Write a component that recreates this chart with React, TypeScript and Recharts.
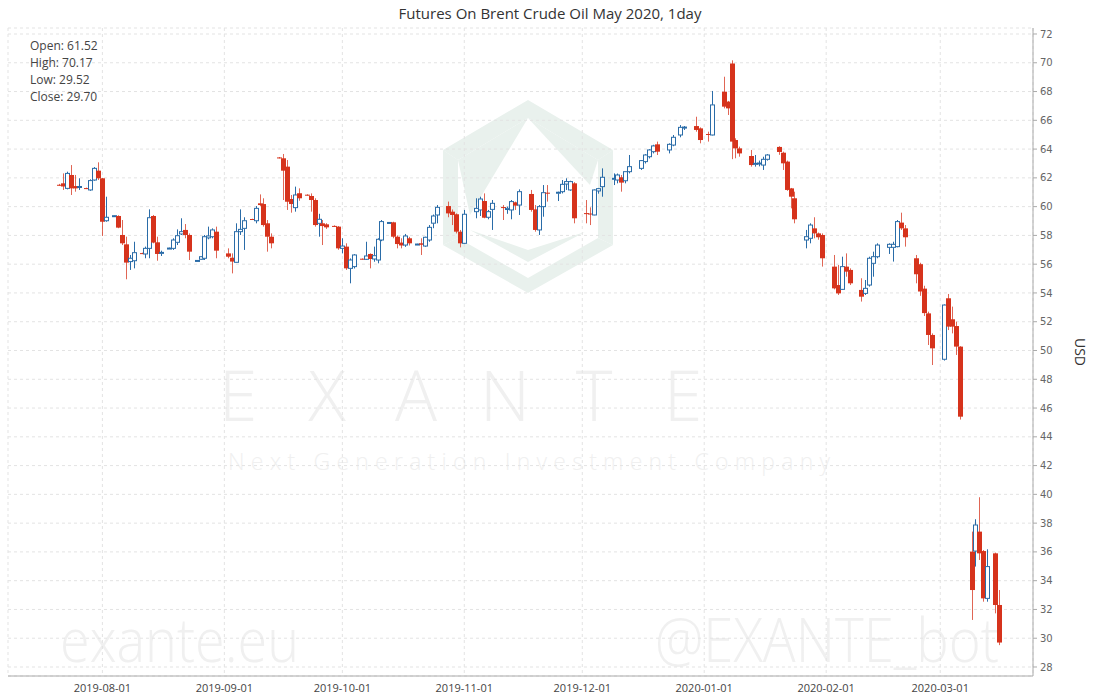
import { Bar, CartesianGrid, ComposedChart, Label, XAxis, YAxis } from "recharts";

// daily candles, Brent May 2020 futures
const dates = [
  "2019-07-21", "2019-07-22", "2019-07-23", "2019-07-24", "2019-07-25", "2019-07-26",
  "2019-07-28", "2019-07-29", "2019-07-30", "2019-07-31", "2019-08-01", "2019-08-02",
  "2019-08-04", "2019-08-05", "2019-08-06", "2019-08-07", "2019-08-08", "2019-08-09",
  "2019-08-11", "2019-08-12", "2019-08-13", "2019-08-14", "2019-08-15", "2019-08-16",
  "2019-08-18", "2019-08-19", "2019-08-20", "2019-08-21", "2019-08-22", "2019-08-23",
  "2019-08-25", "2019-08-26", "2019-08-27", "2019-08-28", "2019-08-29", "2019-08-30",
  "2019-09-02", "2019-09-03", "2019-09-04", "2019-09-05", "2019-09-06",
  "2019-09-08", "2019-09-09", "2019-09-10", "2019-09-11", "2019-09-12", "2019-09-13",
  "2019-09-15", "2019-09-16", "2019-09-17", "2019-09-18", "2019-09-19", "2019-09-20",
  "2019-09-22", "2019-09-23", "2019-09-24", "2019-09-25", "2019-09-26", "2019-09-27",
  "2019-09-29", "2019-09-30", "2019-10-01", "2019-10-02", "2019-10-03", "2019-10-04",
  "2019-10-06", "2019-10-07", "2019-10-08", "2019-10-09", "2019-10-10", "2019-10-11",
  "2019-10-13", "2019-10-14", "2019-10-15", "2019-10-16", "2019-10-17", "2019-10-18",
  "2019-10-20", "2019-10-21", "2019-10-22", "2019-10-23", "2019-10-24", "2019-10-25",
  "2019-10-28", "2019-10-29", "2019-10-30", "2019-10-31", "2019-11-01",
  "2019-11-04", "2019-11-05", "2019-11-06", "2019-11-07", "2019-11-08",
  "2019-11-11", "2019-11-12", "2019-11-13", "2019-11-14", "2019-11-15",
  "2019-11-18", "2019-11-19", "2019-11-20", "2019-11-21", "2019-11-22",
  "2019-11-25", "2019-11-26", "2019-11-27", "2019-11-28", "2019-11-29",
  "2019-12-02", "2019-12-03", "2019-12-04", "2019-12-05", "2019-12-06",
  "2019-12-09", "2019-12-10", "2019-12-11", "2019-12-12", "2019-12-13",
  "2019-12-16", "2019-12-17", "2019-12-18", "2019-12-19", "2019-12-20",
  "2019-12-23", "2019-12-24", "2019-12-26", "2019-12-27",
  "2019-12-30", "2019-12-31", "2020-01-02", "2020-01-03",
  "2020-01-06", "2020-01-07", "2020-01-08", "2020-01-09", "2020-01-10",
  "2020-01-13", "2020-01-14", "2020-01-15", "2020-01-16", "2020-01-17",
  "2020-01-20", "2020-01-21", "2020-01-22", "2020-01-23", "2020-01-24",
  "2020-01-27", "2020-01-28", "2020-01-29", "2020-01-30", "2020-01-31",
  "2020-02-03", "2020-02-04", "2020-02-05", "2020-02-06", "2020-02-07",
  "2020-02-10", "2020-02-11", "2020-02-12", "2020-02-13", "2020-02-14",
  "2020-02-17", "2020-02-18", "2020-02-19", "2020-02-20", "2020-02-21",
  "2020-02-24", "2020-02-25", "2020-02-26", "2020-02-27", "2020-02-28",
  "2020-03-02", "2020-03-03", "2020-03-04", "2020-03-05", "2020-03-06",
  "2020-03-09", "2020-03-10", "2020-03-11", "2020-03-12", "2020-03-13",
  "2020-03-15", "2020-03-16",
];

const opens = [
  61.52, 61.62, 61.27, 62.2, 61.43, 61.34,
  61.29, 61.16, 61.85, 62.5, 61.97, 59.02,
  59.33, 59.35, 58.03, 57.38, 56.18, 56.24,
  56.77, 56.71, 57.1, 59.35, 57.52, 56.78,
  57.08, 57.1, 57.52, 58.1, 58.38, 58.03,
  56.22, 56.34, 56.41, 57.83, 57.91, 58.26,
  56.75, 56.45, 56.13, 58.26, 58.49,
  59.14, 59.02, 60.23, 60.18, 58.84, 57.91,
  63.42, 63.36, 62.78, 60.53, 59.93, 60.93,
  60.83, 60.74, 60.46, 58.84, 58.84, 58.77,
  58.66, 58.61, 57.1, 57.22, 55.71, 55.83,
  56.38, 56.34, 56.71, 56.36, 56.29, 57.68,
  58.88, 58.91, 57.91, 57.5, 57.33, 57.8,
  57.38, 57.45, 57.26, 57.68, 58.85, 59.42,
  60.04, 59.65, 59.47, 58.26, 57.45,
  59.65, 59.77, 60.39, 59.26, 59.81,
  59.97, 59.8, 59.77, 60.3, 60.11,
  60.88, 59.81, 58.38, 60.0, 60.97,
  60.97, 61.04, 61.57, 61.16, 61.62,
  59.55, 59.52, 59.42, 61.09, 61.39,
  61.9, 61.85, 62.04, 61.8, 62.43,
  62.66, 63.13, 63.47, 63.82, 64.33,
  63.94, 64.28, 64.98, 65.5,
  65.6, 65.44, 65.05, 64.98,
  67.99, 67.3, 69.95, 64.63, 64.05,
  63.52, 62.95, 62.98, 62.89, 63.29,
  64.15, 63.75, 63.13, 61.27, 60.58,
  57.68, 57.8, 58.49, 58.14, 58.03,
  55.83, 54.55, 54.25, 55.83, 55.6,
  54.21, 53.97, 54.55, 56.06, 56.52,
  57.17, 57.17, 57.22, 58.89, 58.49,
  56.41, 56.0, 54.3, 52.58, 51.08,
  49.39, 53.63, 52.17, 51.7, 50.27,
  36.02, 36.06, 37.41, 36.06, 32.77,
  35.9, 32.31,
];

const highs = [
  61.58, 62.31, 62.43, 62.89, 62.2, 61.97,
  61.32, 61.9, 62.75, 63.08, 62.0, 60.69,
  59.4, 59.4, 59.07, 57.91, 56.64, 57.56,
  56.8, 57.22, 59.81, 59.42, 57.91, 56.94,
  57.15, 57.8, 58.42, 59.19, 58.79, 58.14,
  56.28, 56.55, 58.03, 58.61, 58.49, 58.61,
  57.1, 56.75, 58.84, 59.81, 59.26,
  59.16, 60.04, 60.85, 60.58, 59.07, 58.14,
  63.45, 63.66, 63.24, 60.81, 61.39, 61.27,
  60.86, 60.92, 60.58, 59.5, 59.07, 58.85,
  58.7, 58.65, 57.8, 57.45, 56.4, 56.7,
  56.4, 57.56, 56.75, 57.22, 57.8, 59.07,
  58.92, 58.95, 58.0, 57.8, 58.1, 57.9,
  57.42, 57.8, 57.91, 58.72, 59.45, 60.11,
  60.35, 59.8, 59.53, 58.38, 59.77,
  60.58, 60.69, 60.92, 59.77, 60.46,
  60.11, 60.0, 60.46, 60.35, 61.2,
  61.16, 60.11, 60.11, 61.5, 61.5,
  61.04, 61.85, 61.97, 61.8, 61.7,
  60.46, 59.95, 61.2, 61.3, 62.66,
  62.31, 62.3, 62.2, 62.43, 63.59,
  63.24, 63.65, 64.0, 64.3, 64.52,
  64.4, 64.98, 65.67, 65.6,
  66.25, 65.51, 65.21, 68.04,
  69.03, 67.35, 70.17, 64.75, 64.17,
  63.94, 63.59, 63.2, 63.47, 63.65,
  64.2, 63.82, 63.2, 61.3, 61.04,
  58.38, 58.84, 59.26, 58.2, 58.14,
  56.64, 55.94, 56.52, 56.75, 55.71,
  55.02, 54.9, 56.52, 56.87, 57.45,
  57.45, 57.56, 59.07, 59.58, 58.72,
  56.64, 56.1, 54.5, 52.7, 51.19,
  53.2, 53.93, 53.05, 52.0, 50.3,
  37.41, 38.27, 39.8, 36.13, 36.18,
  35.95, 33.35,
];

const lows = [
  61.45, 61.16, 61.2, 60.81, 61.04, 61.16,
  61.22, 61.1, 61.8, 61.85, 57.96, 58.95,
  59.3, 58.5, 57.33, 54.95, 55.6, 55.71,
  56.7, 56.41, 56.41, 57.45, 56.24, 56.57,
  57.05, 56.99, 57.33, 58.03, 57.8, 56.29,
  56.2, 56.3, 56.29, 57.73, 57.8, 56.41,
  56.41, 55.36, 56.11, 58.03, 56.99,
  59.08, 58.84, 60.04, 58.61, 56.87, 57.1,
  63.35, 60.46, 59.77, 59.58, 59.65, 60.41,
  60.76, 59.65, 58.61, 57.91, 57.33, 58.45,
  58.6, 57.0, 56.75, 55.6, 54.67, 55.7,
  56.32, 56.29, 55.71, 56.17, 56.06, 57.6,
  58.85, 57.8, 57.1, 57.1, 57.2, 57.3,
  57.35, 56.64, 57.2, 57.56, 58.5, 58.84,
  59.26, 58.72, 58.14, 57.17, 57.4,
  59.19, 59.35, 59.19, 59.12, 58.38,
  59.07, 59.5, 59.12, 59.77, 59.42,
  59.65, 58.26, 58.03, 59.3, 60.35,
  60.39, 60.92, 61.16, 61.1, 58.84,
  58.84, 58.72, 59.4, 60.9, 60.69,
  61.5, 61.62, 61.04, 61.62, 62.31,
  62.55, 63.0, 63.35, 63.7, 63.59,
  63.7, 64.2, 64.82, 65.33,
  65.21, 64.4, 64.52, 64.95,
  66.83, 66.37, 63.3, 63.36, 63.47,
  62.78, 62.78, 62.8, 62.55, 63.2,
  63.6, 62.55, 61.1, 59.88, 58.84,
  57.1, 57.45, 57.8, 57.7, 55.83,
  54.25, 53.86, 54.21, 55.13, 54.55,
  53.4, 53.86, 54.44, 55.13, 56.41,
  56.71, 56.18, 57.17, 58.38, 57.22,
  54.67, 53.8, 52.4, 50.38, 48.99,
  49.3, 51.42, 51.19, 49.69, 45.2,
  31.27, 34.98, 35.44, 32.54, 32.54,
  31.73, 29.52,
];

const closes = [
  61.5, 61.4, 62.31, 61.27, 61.27, 61.4,
  61.25, 61.81, 62.66, 61.97, 58.95, 59.26,
  59.37, 58.54, 57.45, 56.11, 56.41, 56.8,
  56.73, 57.1, 59.23, 57.5, 56.71, 56.82,
  57.12, 57.68, 57.98, 58.26, 58.03, 56.87,
  56.26, 56.52, 57.91, 57.96, 58.38, 56.94,
  56.52, 56.18, 58.26, 58.42, 59.02,
  59.1, 59.88, 60.11, 58.72, 57.91, 57.45,
  63.38, 62.5, 60.34, 60.18, 60.81, 60.58,
  60.79, 60.46, 58.72, 59.12, 58.65, 58.56,
  58.62, 57.1, 57.26, 55.71, 56.29, 56.64,
  56.34, 56.57, 56.36, 56.59, 57.73, 58.96,
  58.9, 57.91, 57.4, 57.3, 57.96, 57.45,
  57.4, 57.35, 57.87, 58.56, 59.35, 59.95,
  59.53, 59.42, 58.26, 57.45, 59.47,
  59.88, 60.53, 59.23, 59.65, 60.23,
  59.93, 59.88, 60.35, 60.07, 61.04,
  59.77, 58.38, 60.0, 60.97, 60.9,
  61.0, 61.55, 61.74, 61.74, 59.19,
  59.5, 59.47, 61.16, 61.25, 62.04,
  61.97, 62.2, 61.67, 62.43, 62.78,
  63.2, 63.59, 63.94, 64.22, 63.82,
  64.33, 64.82, 65.51, 65.53,
  65.33, 64.63, 64.98, 67.07,
  66.95, 66.83, 64.52, 64.05, 63.7,
  62.89, 63.01, 63.03, 63.29, 63.59,
  63.8, 63.01, 61.16, 60.69, 59.12,
  57.91, 58.72, 58.14, 57.87, 56.41,
  54.32, 53.97, 55.83, 55.48, 54.67,
  53.74, 54.32, 56.41, 56.52, 57.33,
  57.38, 57.38, 58.96, 58.49, 57.87,
  55.3, 54.1, 52.6, 51.08, 50.15,
  53.16, 51.66, 51.66, 50.27, 45.4,
  33.35, 37.87, 35.9, 32.77, 34.98,
  32.31, 29.7,
];

const monthTicks = [
  "2019-08-01", "2019-09-01", "2019-10-01", "2019-11-01",
  "2019-12-01", "2020-01-01", "2020-02-01", "2020-03-01",
];
const priceTicks = [28, 30, 32, 34, 36, 38, 40, 42, 44, 46, 48, 50, 52, 54, 56, 58, 60, 62, 64, 66, 68, 70, 72];

const summary = [
  ["Open", "61.52"],
  ["High", "70.17"],
  ["Low", "29.52"],
  ["Close", "29.70"],
];

const UP = "#2a6ca8";
const DOWN = "#d6331c";
const X_MIN = Date.UTC(2019, 6, 8);
const X_MAX = Date.UTC(2020, 2, 24, 14);

const data = dates.map((d, i) => ({
  t: Date.parse(d),
  open: opens[i],
  high: highs[i],
  low: lows[i],
  close: closes[i],
  range: [lows[i], highs[i]],
}));

const fmtDate = (v: number) => new Date(v).toISOString().slice(0, 10);

function Candle(props: any) {
  const { x, y, width, height, payload } = props;
  if (x == null || payload == null) return null;
  const { open, close, high, low } = payload;
  const cx = Math.round(x + width / 2) + 0.5;
  const k = high > low ? height / (high - low) : 0;
  const py = (v: number) => y + (high - v) * k;
  const top = py(Math.max(open, close));
  const bot = py(Math.min(open, close));
  const h = Math.max(bot - top, 1);
  if (close >= open) {
    return (
      <g>
        <line x1={cx} x2={cx} y1={py(high)} y2={top} stroke={UP} />
        <line x1={cx} x2={cx} y1={top + h} y2={py(low)} stroke={UP} />
        <rect x={cx - 2} y={top} width={4} height={h} fill="#fff" stroke={UP} />
      </g>
    );
  }
  return (
    <g>
      <line x1={cx} x2={cx} y1={py(high)} y2={py(low)} stroke={DOWN} strokeOpacity={0.75} />
      <rect x={cx - 2.5} y={top} width={5} height={h} fill={DOWN} />
    </g>
  );
}

// faint EXANTE watermark behind the plot
function Watermark() {
  const wm = "#f0f0f0";
  return (
    <svg width={1100} height={700} style={{ position: "absolute", left: 0, top: 0 }}>
      <g fill="#e9f1ed">
        <polygon points="528,100 613,150 598,160 528,118 458,160 443,150" />
        <polygon points="443,150 458,160 458,238 443,245" />
        <polygon points="613,150 598,160 598,238 613,245" />
        <polygon points="443,245 458,238 528,278 598,238 613,245 528,293" />
        <polygon points="528,118 458,160 470,215" />
        <polygon points="528,118 598,160 590,185" />
        <polygon points="470,230 528,262 585,232 528,250" />
      </g>
      <g fill={wm} fontFamily="'Open Sans', sans-serif" fontWeight={300}>
        {["E", "X", "A", "N", "T", "E"].map((c, i) => (
          <text key={i} x={238 + i * 89} y={421} fontSize={70} textAnchor="middle">
            {c}
          </text>
        ))}
        <text x={228} y={470} fontSize={23} textLength={602} lengthAdjust="spacing">
          Next Generation Investment Company
        </text>
        <text transform="translate(60 662) scale(0.9 1)" fontSize={60}>
          exante.eu
        </text>
        <text transform="translate(655 662) scale(0.91 1)" fontSize={60}>
          @EXANTE_bot
        </text>
      </g>
    </svg>
  );
}

export default function App() {
  return (
    <div
      style={{
        position: "absolute",
        left: 0,
        top: 0,
        width: 1100,
        height: 700,
        background: "#fff",
        fontFamily: "'Open Sans', sans-serif",
      }}
    >
      <Watermark />
      <div style={{ position: "absolute", left: 0, top: 0 }}>
        <ComposedChart
          width={1100}
          height={700}
          data={data}
          margin={{ top: 28, right: 0, bottom: 0, left: 8 }}
        >
          <CartesianGrid strokeDasharray="3 3" stroke="#e3e3e3" />
          <XAxis
            dataKey="t"
            type="number"
            scale="linear"
            domain={[X_MIN, X_MAX]}
            allowDataOverflow
            ticks={monthTicks.map((d) => Date.parse(d))}
            interval={0}
            tickFormatter={fmtDate}
            tickLine={false}
            axisLine={{ stroke: "#aaa" }}
            height={24}
            tick={{ fontSize: 11, fill: "#444", fontFamily: "'Open Sans', sans-serif" }}
          />
          <YAxis
            orientation="right"
            type="number"
            domain={[27.374, 72.417]}
            allowDataOverflow
            ticks={priceTicks}
            interval={0}
            width={67}
            tickSize={4}
            tickMargin={3}
            axisLine={{ stroke: "#aaa" }}
            tickLine={{ stroke: "#aaa" }}
            tick={{ fontSize: 10, fill: "#666", fontFamily: "'DejaVu Sans', sans-serif" }}
          >
            <Label
              value="USD"
              angle={90}
              position="center"
              dx={13}
              style={{ fontSize: 14, fill: "#333", fontFamily: "'Open Sans', sans-serif" }}
            />
          </YAxis>
          <Bar dataKey="range" barSize={5} shape={Candle} isAnimationActive={false} />
        </ComposedChart>
      </div>
      <div
        style={{
          position: "absolute",
          left: 0,
          top: 3,
          width: 1100,
          textAlign: "center",
          fontSize: 15,
          color: "#333",
        }}
      >
        Futures On Brent Crude Oil May 2020, 1day
      </div>
      <div
        style={{
          position: "absolute",
          left: 30,
          top: 37,
          fontSize: 12,
          lineHeight: "17px",
          color: "#444",
        }}
      >
        {summary.map(([k, v]) => (
          <div key={k}>
            {k}: {v}
          </div>
        ))}
      </div>
    </div>
  );
}
